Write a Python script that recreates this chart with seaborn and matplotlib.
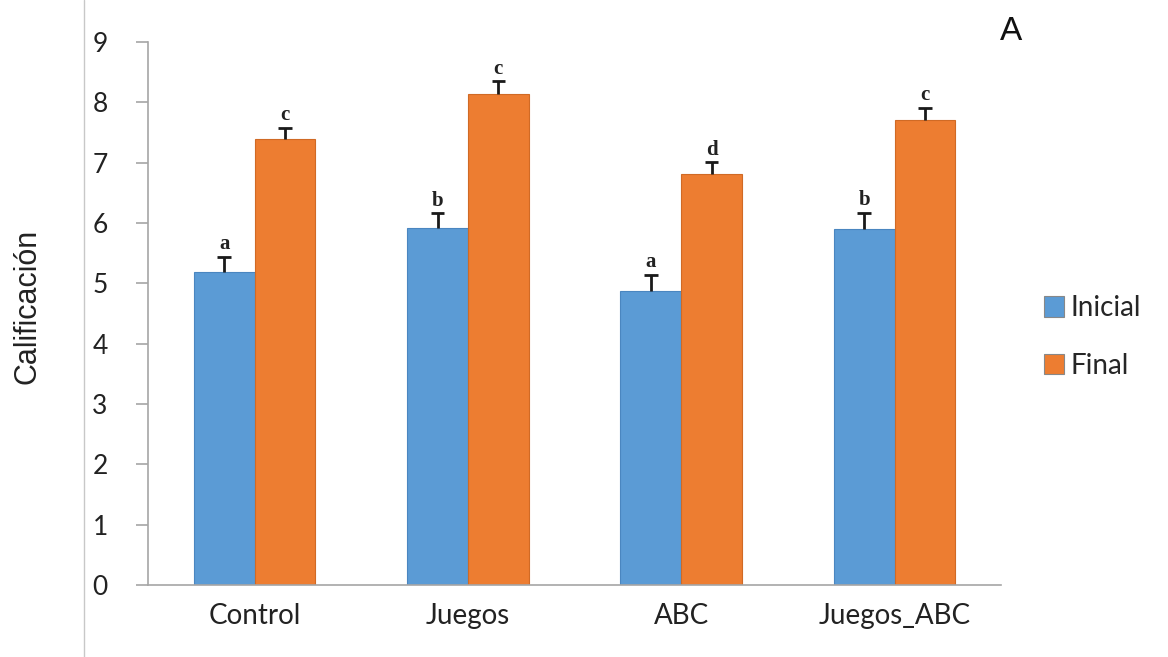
import numpy as np
import pandas as pd
import matplotlib
matplotlib.use("Agg")
import matplotlib.pyplot as plt
from matplotlib.lines import Line2D
import seaborn as sns

groups = ["Control", "Juegos", "ABC", "Juegos_ABC"]
inicial = [5.19, 5.92, 4.88, 5.90]
final = [7.40, 8.14, 6.82, 7.71]
err_inicial = [0.25, 0.24, 0.26, 0.27]
err_final = [0.18, 0.21, 0.19, 0.20]
letters_inicial = ["a", "b", "a", "b"]
letters_final = ["c", "c", "d", "c"]
series = ["Inicial", "Final"]
yticks = list(range(0, 10))

df = pd.DataFrame({
    "grupo": groups * 2,
    "serie": [series[0]] * 4 + [series[1]] * 4,
    "valor": inicial + final,
    "err": err_inicial + err_final,
    "letra": letters_inicial + letters_final,
})

sns.set_theme(style="white")
plt.rcParams["font.family"] = ["Lato", "DejaVu Sans"]

fig = plt.figure(figsize=(11.68, 6.57), dpi=100)
ax = fig.add_axes([0.1267, 0.1096, 0.7305, 0.8264])

palette = {"Inicial": "#5B9BD5", "Final": "#ED7D31"}
sns.barplot(data=df, x="grupo", y="valor", hue="serie", order=groups,
            hue_order=series, palette=palette, width=0.57, errorbar=None,
            saturation=1, ax=ax, legend=False)

# one-sided (upper) error bars and significance letters
cap_half = 0.032
for s_i, s in enumerate(series):
    cont = ax.containers[s_i]
    sub = df[df.serie == s].set_index("grupo").loc[groups]
    for bar, (_, row) in zip(cont, sub.iterrows()):
        bar.set_edgecolor("#D06A25" if s == "Final" else "#4A86C0")
        bar.set_linewidth(0.8)
        xc = bar.get_x() + bar.get_width() / 2
        top = row["valor"] + row["err"]
        ax.vlines(xc, row["valor"], top, color="#1a1a1a", linewidth=2.0,
                  zorder=4)
        ax.hlines(top, xc - cap_half, xc + cap_half, color="#1a1a1a",
                  linewidth=2.0, zorder=4)
        ax.text(xc, top + 0.04, row["letra"],
                ha="center", va="bottom", fontsize=15, fontweight="bold",
                family="Liberation Serif", color="#222222")

ax.set_ylim(0, 9)
ax.set_xlim(-0.5, 3.5)
ax.set_yticks(yticks)
ax.set_yticklabels([str(t) for t in yticks], fontsize=19, color="#222222")
ax.set_xticks(range(len(groups)))
ax.set_xticklabels(groups, fontsize=20, color="#222222")
ax.set_xticks(np.arange(-0.5, 4.0, 1.0), minor=True)
ax.tick_params(axis="x", which="major", length=0, pad=13)
ax.tick_params(axis="x", which="minor", length=9, width=1.2, color="#A6A6A6",
               direction="out")
ax.tick_params(axis="y", which="major", length=9, width=1.2, color="#A6A6A6",
               direction="out", left=True, pad=20)
ax.set_xlabel("")
ax.set_ylabel("")
for side in ["top", "right"]:
    ax.spines[side].set_visible(False)
for side in ["left", "bottom"]:
    ax.spines[side].set_color("#A6A6A6")
    ax.spines[side].set_linewidth(1.2)

fig.text(0.0235, 0.533, "Calificación", fontsize=22, family="Liberation Sans",
         rotation=90, ha="center", va="center", color="#222222")

handles = [plt.Rectangle((0, 0), 1, 1, facecolor=palette[s],
                         edgecolor="#888888", linewidth=0.8) for s in series]
leg = fig.legend(handles, series, loc="center left",
                 bbox_to_anchor=(0.894, 0.487), frameon=False, fontsize=20,
                 handlelength=0.7, handleheight=0.75, handletextpad=0.25,
                 labelspacing=1.15, borderpad=0, borderaxespad=0)

fig.text(0.866, 0.952, "A", fontsize=24, family="Liberation Sans",
         ha="center", va="center", color="#111111")

fig.add_artist(Line2D([0.0715, 0.0715], [0.0, 1.0], color="#C8C8C8",
                      linewidth=1.0, transform=fig.transFigure))

fig.savefig("out.png", dpi=100, facecolor="white")
